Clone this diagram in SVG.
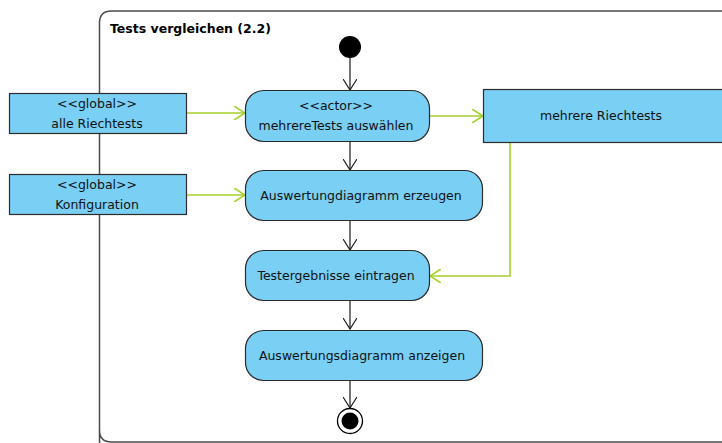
<svg xmlns="http://www.w3.org/2000/svg" width="722" height="443" viewBox="0 0 722 443">
  <style>
    .frame { fill: none; stroke: #4a4a4a; stroke-width: 1.5; }
    .title { font-family: "DejaVu Sans", Verdana, sans-serif; font-size: 12.5px; font-weight: bold; fill: #000; }
    .lbl { font-family: "DejaVu Sans", Verdana, sans-serif; font-size: 12.5px; fill: #111; text-anchor: middle; }
    .act { fill: #7acff5; stroke: #2b2b2b; stroke-width: 1.2; }
    .obj { fill: #7acff5; stroke: #2b2b2b; stroke-width: 1.2; }
    .ctrl { fill: none; stroke: #1a1a1a; stroke-width: 1.2; }
    .flow { fill: none; stroke: #a5d12b; stroke-width: 1.6; }
  </style>
  <defs>
    <marker id="open-black" viewBox="0 0 12 14" refX="11" refY="7" markerWidth="12" markerHeight="14" markerUnits="userSpaceOnUse" orient="auto">
      <path d="M0,0 L11,7 L0,14" fill="none" stroke="#1a1a1a" stroke-width="1.2"/>
    </marker>
    <marker id="open-green" viewBox="0 0 12 14" refX="11" refY="7" markerWidth="12" markerHeight="14" markerUnits="userSpaceOnUse" orient="auto">
      <path d="M0,0 L11,7 L0,14" fill="none" stroke="#a5d12b" stroke-width="1.6"/>
    </marker>
  </defs>

  <rect width="722" height="443" fill="#fff"/>

  <!-- activity frame -->
  <g id="frame">
    <path class="frame" d="M99.5,450 L99.5,430 Q99.5,442 111.5,442 L730,442"/>
    <path class="frame" d="M99.5,430 L99.5,23 Q99.5,11 111.5,11 L722,11"/>
    <text class="title" x="110" y="33">Tests vergleichen (2.2)</text>
  </g>

  <!-- connectors -->
  <g id="connectors">
    <line class="ctrl" x1="350" y1="58" x2="350" y2="90" marker-end="url(#open-black)"/>
    <line class="ctrl" x1="350" y1="142" x2="350" y2="170" marker-end="url(#open-black)"/>
    <line class="ctrl" x1="350" y1="221" x2="350" y2="250" marker-end="url(#open-black)"/>
    <line class="ctrl" x1="350" y1="301" x2="350" y2="329" marker-end="url(#open-black)"/>
    <line class="ctrl" x1="350" y1="381" x2="350" y2="408" marker-end="url(#open-black)"/>
    <line class="flow" x1="187" y1="113" x2="245" y2="113" marker-end="url(#open-green)"/>
    <line class="flow" x1="187" y1="195" x2="245" y2="195" marker-end="url(#open-green)"/>
    <line class="flow" x1="429" y1="116" x2="483" y2="116" marker-end="url(#open-green)"/>
    <polyline class="flow" points="510,143 510,276 430,276" marker-end="url(#open-green)"/>
  </g>

  <g id="start">
    <circle cx="350" cy="47" r="11" fill="#000"/>
  </g>

  <g id="obj-alle-riechtests">
    <rect class="obj" x="9.5" y="93.5" width="177" height="40"/>
    <text class="lbl" x="97" y="108">&lt;&lt;global&gt;&gt;</text>
    <text class="lbl" x="97" y="128">alle Riechtests</text>
  </g>

  <g id="obj-konfiguration">
    <rect class="obj" x="9.5" y="174.5" width="177" height="40"/>
    <text class="lbl" x="97" y="189">&lt;&lt;global&gt;&gt;</text>
    <text class="lbl" x="97" y="209">Konfiguration</text>
  </g>

  <g id="act-auswaehlen">
    <rect class="act" x="245.5" y="90.5" width="184" height="51" rx="18" ry="18"/>
    <text class="lbl" x="336" y="110">&lt;&lt;actor&gt;&gt;</text>
    <text class="lbl" x="336" y="130">mehrereTests auswählen</text>
  </g>

  <g id="obj-mehrere-riechtests">
    <rect class="obj" x="483.5" y="89.5" width="250" height="53"/>
    <text class="lbl" x="601" y="120">mehrere Riechtests</text>
  </g>

  <g id="act-erzeugen">
    <rect class="act" x="245.5" y="170.5" width="237" height="50" rx="18" ry="18"/>
    <text class="lbl" x="361" y="200">Auswertungdiagramm erzeugen</text>
  </g>

  <g id="act-eintragen">
    <rect class="act" x="245.5" y="250.5" width="184" height="50" rx="18" ry="18"/>
    <text class="lbl" x="336" y="280">Testergebnisse eintragen</text>
  </g>

  <g id="act-anzeigen">
    <rect class="act" x="245.5" y="330.5" width="237" height="50" rx="18" ry="18"/>
    <text class="lbl" x="362" y="360">Auswertungsdiagramm anzeigen</text>
  </g>

  <g id="end">
    <circle cx="350" cy="421" r="12.5" fill="#fff" stroke="#000" stroke-width="1.3"/>
    <circle cx="350" cy="421" r="8.5" fill="#000"/>
  </g>
</svg>
